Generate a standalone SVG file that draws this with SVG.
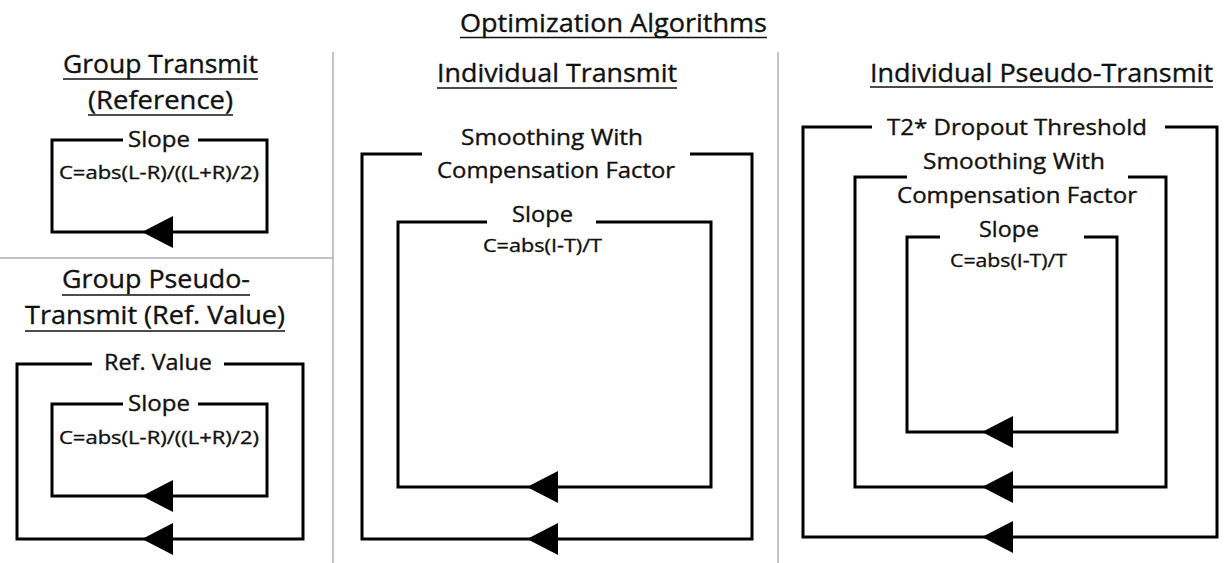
<svg xmlns="http://www.w3.org/2000/svg" width="1225" height="563" viewBox="0 0 1225 563">
<style>
text{font-family:"Open Sans","Liberation Sans",sans-serif;fill:#111;stroke:#111;stroke-width:0.35;text-anchor:middle}
.h{font-size:25px}
.l{font-size:22px}
.f{font-size:18px}
.ul{stroke:#111;stroke-width:1.6}
.div{stroke:#b0b0b0;stroke-width:1.5}
.loop{fill:none;stroke:#000;stroke-width:3;stroke-linejoin:miter}
.ar{fill:#000}
</style>
<defs>
<path id="arr" d="M0,0 L31,-16 L31,16 Z"/>
</defs>
<rect width="1225" height="563" fill="#fff"/>
<g id="dividers">
<line class="div" x1="333" y1="52" x2="333" y2="563"/>
<line class="div" x1="778" y1="52" x2="778" y2="563"/>
<line class="div" x1="0" y1="258" x2="333" y2="258"/>
</g>
<g id="title">
<text class="h" x="613.5" y="32" textLength="307" lengthAdjust="spacingAndGlyphs">Optimization Algorithms</text>
<line class="ul" x1="460" y1="37.5" x2="767" y2="37.5"/>
</g>
<g id="head-group-transmit">
<text class="h" x="160.5" y="73" textLength="195" lengthAdjust="spacingAndGlyphs">Group Transmit</text>
<line class="ul" x1="63" y1="79" x2="258" y2="79"/>
<text class="h" x="160.5" y="109" textLength="145" lengthAdjust="spacingAndGlyphs">(Reference)</text>
<line class="ul" x1="88" y1="115" x2="233" y2="115"/>
</g>
<g id="head-group-pseudo">
<text class="h" x="156" y="288" textLength="188" lengthAdjust="spacingAndGlyphs">Group Pseudo-</text>
<line class="ul" x1="62" y1="295" x2="250" y2="295"/>
<text class="h" x="155" y="324" textLength="260" lengthAdjust="spacingAndGlyphs">Transmit (Ref. Value)</text>
<line class="ul" x1="25" y1="331" x2="285" y2="331"/>
</g>
<g id="head-individual-transmit">
<text class="h" x="557" y="82" textLength="240" lengthAdjust="spacingAndGlyphs">Individual Transmit</text>
<line class="ul" x1="437" y1="88" x2="677" y2="88"/>
</g>
<g id="head-individual-pseudo">
<text class="h" x="1041.5" y="82" textLength="343" lengthAdjust="spacingAndGlyphs">Individual Pseudo-Transmit</text>
<line class="ul" x1="870" y1="87" x2="1213" y2="87"/>
</g>
<g id="gt-slope">
<text class="l" x="159" y="147" textLength="62" lengthAdjust="spacingAndGlyphs">Slope</text>
<text class="f" x="159" y="179" textLength="200" lengthAdjust="spacingAndGlyphs">C=abs(L-R)/((L+R)/2)</text>
</g>
<g id="gp-refvalue">
<text class="l" x="158" y="370" textLength="108" lengthAdjust="spacingAndGlyphs">Ref. Value</text>
</g>
<g id="gp-slope">
<text class="l" x="159" y="411" textLength="62" lengthAdjust="spacingAndGlyphs">Slope</text>
<text class="f" x="159" y="444" textLength="200" lengthAdjust="spacingAndGlyphs">C=abs(L-R)/((L+R)/2)</text>
</g>
<g id="it-smoothing">
<text class="l" x="552" y="145" textLength="182" lengthAdjust="spacingAndGlyphs">Smoothing With</text>
<text class="l" x="556" y="178" textLength="238" lengthAdjust="spacingAndGlyphs">Compensation Factor</text>
</g>
<g id="it-slope">
<text class="l" x="542.5" y="222" textLength="61" lengthAdjust="spacingAndGlyphs">Slope</text>
<text class="f" x="542.5" y="252" textLength="119" lengthAdjust="spacingAndGlyphs">C=abs(I-T)/T</text>
</g>
<g id="ip-t2">
<text class="l" x="1017" y="135" textLength="260" lengthAdjust="spacingAndGlyphs">T2* Dropout Threshold</text>
</g>
<g id="ip-smoothing">
<text class="l" x="1014" y="169" textLength="182" lengthAdjust="spacingAndGlyphs">Smoothing With</text>
<text class="l" x="1017" y="203" textLength="240" lengthAdjust="spacingAndGlyphs">Compensation Factor</text>
</g>
<g id="ip-slope">
<text class="l" x="1009" y="237" textLength="60" lengthAdjust="spacingAndGlyphs">Slope</text>
<text class="f" x="1008.5" y="267" textLength="117" lengthAdjust="spacingAndGlyphs">C=abs(I-T)/T</text>
</g>
<g id="connectors">
<path class="loop" d="M123,140 H52 V232 H267 V140 H198"/>
<use href="#arr" class="ar" x="142" y="232"/>
<path class="loop" d="M92,364 H17 V539 H303 V364 H224"/>
<use href="#arr" class="ar" x="142" y="539"/>
<path class="loop" d="M123,404 H52 V496 H267 V404 H198"/>
<use href="#arr" class="ar" x="142" y="496"/>
<path class="loop" d="M422,154 H362 V539 H752 V154 H690"/>
<use href="#arr" class="ar" x="527" y="539"/>
<path class="loop" d="M487,222 H398 V487 H711 V222 H596"/>
<use href="#arr" class="ar" x="527" y="487"/>
<path class="loop" d="M872,127 H803 V537 H1217 V127 H1165"/>
<use href="#arr" class="ar" x="982" y="537"/>
<path class="loop" d="M907,177 H855 V487 H1166 V177 H1128"/>
<use href="#arr" class="ar" x="982" y="487"/>
<path class="loop" d="M940,237 H907 V432 H1117 V237 H1084"/>
<use href="#arr" class="ar" x="982" y="432"/>
</g>
</svg>
